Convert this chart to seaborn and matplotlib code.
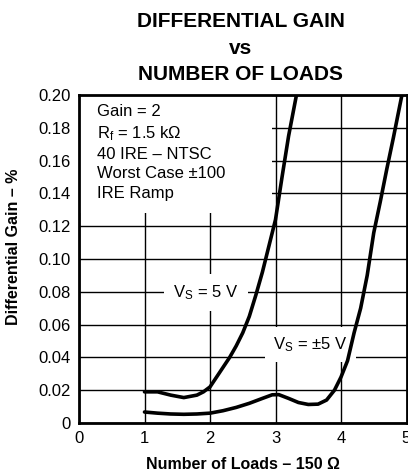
import numpy as np
import pandas as pd
import seaborn as sns
import matplotlib.pyplot as plt
from matplotlib.patches import Rectangle

# curves
x_5v = [1.0, 1.2, 1.4, 1.6, 1.8, 1.9, 2.0, 2.1, 2.2, 2.3, 2.4, 2.5, 2.6,
        2.7, 2.8, 2.9, 3.0, 3.1, 3.2, 3.32]
y_5v = [0.019, 0.019, 0.017, 0.0155, 0.017, 0.019, 0.022, 0.028, 0.034,
        0.040, 0.047, 0.055, 0.065, 0.078, 0.092, 0.108, 0.124, 0.150,
        0.175, 0.200]

x_pm5v = [1.0, 1.2, 1.4, 1.6, 1.8, 2.0, 2.2, 2.4, 2.6, 2.8, 2.95, 3.05,
          3.2, 3.35, 3.5, 3.65, 3.78, 3.9, 4.0, 4.1, 4.2, 4.3, 4.4, 4.5,
          4.6, 4.7, 4.8, 4.93]
y_pm5v = [0.0067, 0.006, 0.0055, 0.0053, 0.0055, 0.006, 0.0075, 0.0095,
          0.012, 0.015, 0.0172, 0.0173, 0.015, 0.0125, 0.0113, 0.0115,
          0.014, 0.020, 0.028, 0.038, 0.055, 0.070, 0.090, 0.116, 0.135,
          0.155, 0.174, 0.200]

x_ticks = [0, 1, 2, 3, 4, 5]
y_ticks = [0, 0.02, 0.04, 0.06, 0.08, 0.10, 0.12, 0.14, 0.16, 0.18, 0.20]
y_ticklabels = ['0', '0.02', '0.04', '0.06', '0.08', '0.10', '0.12',
                '0.14', '0.16', '0.18', '0.20']

sns.set_style("white")
plt.rcParams['font.family'] = ['Liberation Sans', 'DejaVu Sans']
plt.rcParams['mathtext.fontset'] = 'custom'
plt.rcParams['mathtext.rm'] = 'Liberation Sans'
plt.rcParams['mathtext.it'] = 'Liberation Sans'
plt.rcParams['text.color'] = 'black'
plt.rcParams['axes.labelcolor'] = 'black'

fig = plt.figure(figsize=(4.08, 4.72), dpi=100)
ax = fig.add_axes([79/408, 1 - 423/472, 327.5/408, 328/472])

#the two curves
sns.lineplot(x=x_5v, y=y_5v, ax=ax, color='black', linewidth=2.6,
             sort=False, estimator=None, zorder=4)
sns.lineplot(x=x_pm5v, y=y_pm5v, ax=ax, color='black', linewidth=2.6,
             sort=False, estimator=None, zorder=4)

ax.set_xlim(0, 5)
ax.set_ylim(0, 0.20)
ax.set_xticks(x_ticks)
ax.set_yticks(y_ticks)
ax.set_yticklabels(y_ticklabels)
ax.tick_params(length=0, labelsize=12, colors='black', pad=6)
ax.grid(True, color='black', linewidth=1.0)
ax.set_axisbelow(True)
for s in ax.spines.values():
    s.set_linewidth(2)
    s.set_color('black')
    s.set_zorder(5)

#blank area behind the conditions text
ax.add_patch(Rectangle((0, 0.64), 0.59, 0.36, transform=ax.transAxes,
                       facecolor='white', edgecolor='none', zorder=1))

cond = ("Gain = 2\nR$_\\mathrm{f}$ = 1.5 k\u03a9\n40 IRE \u2013 NTSC\n"
        "Worst Case \u00b1100\nIRE Ramp")
ax.text(0.27, 0.1945, cond, fontsize=12, va='top', ha='left',
        linespacing=1.36, zorder=3)

ax.text(1.94, 0.0795, "V$_\\mathrm{S}$ = 5 V", fontsize=12, ha='center',
        va='center', zorder=3,
        bbox=dict(boxstyle='square,pad=0.55', facecolor='white',
                  edgecolor='none'))
ax.text(3.53, 0.0478, "V$_\\mathrm{S}$ = \u00b15 V", fontsize=12,
        ha='center', va='center', zorder=3,
        bbox=dict(boxstyle='square,pad=0.5', facecolor='white',
                  edgecolor='none'))

ax.set_xlabel("Number of Loads \u2013 150 \u03a9", fontsize=11.5,
              fontweight='bold', labelpad=8)
ax.set_ylabel("Differential Gain \u2013 %", fontsize=11.5,
              fontweight='bold')
ax.yaxis.set_label_coords(-0.177, 0.537)

fig.text(241/408, 1 - 12/472, "DIFFERENTIAL GAIN\nvs\nNUMBER OF LOADS",
         ha='center', va='top', fontsize=15, fontweight='bold',
         linespacing=1.5)

fig.savefig('out.png', dpi=100)
